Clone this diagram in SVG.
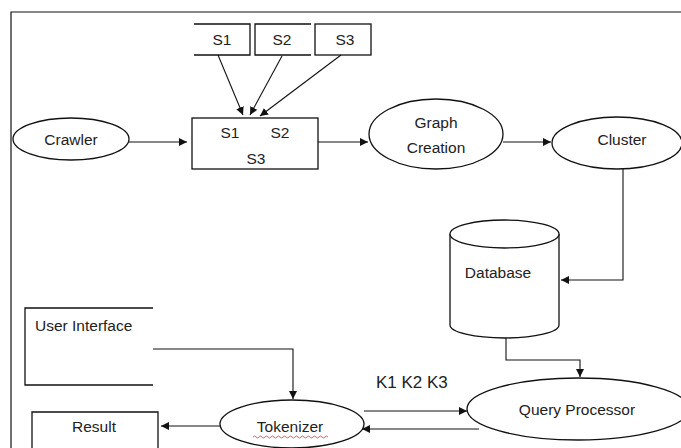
<svg xmlns="http://www.w3.org/2000/svg" width="681" height="448" viewBox="0 0 681 448">
<style>
.s{fill:none;stroke:#111;stroke-width:1.2}
.n{fill:#fff;stroke:#111;stroke-width:1.3}
.c{fill:none;stroke:#111;stroke-width:1.1}
text{font-family:"Liberation Sans",Arial,sans-serif;font-size:15.5px;fill:#222}
.m{text-anchor:middle}
</style>
<defs>
<marker id="a" viewBox="0 0 10 10" refX="10" refY="5" markerWidth="8" markerHeight="8" markerUnits="userSpaceOnUse" orient="auto">
<path d="M0,0 L10,5 L0,10 z" fill="#111"/>
</marker>
</defs>
<rect width="681" height="448" fill="#fff"/>
<g id="frame"><path class="s" d="M11,448 V12 H681"/></g>

<g id="s1"><path class="n" d="M194,24 H250 V55 H194"/><text class="m" x="222" y="45">S1</text></g>
<g id="s2"><path class="n" d="M311,24 H255 V55 H311"/><text class="m" x="282" y="45">S2</text></g>
<g id="s3"><rect class="n" x="315" y="24" width="56" height="31"/><text class="m" x="345" y="45">S3</text></g>

<g id="merge"><rect class="n" x="192" y="118" width="126" height="51"/>
<text class="m" x="230" y="138">S1</text><text class="m" x="280" y="138">S2</text><text class="m" x="256" y="164">S3</text></g>

<g id="crawler"><ellipse class="n" cx="71" cy="139" rx="58" ry="21"/><text class="m" x="71" y="145">Crawler</text></g>
<g id="graph"><ellipse class="n" cx="436" cy="134" rx="67" ry="35"/><text class="m" x="436" y="128">Graph</text><text class="m" x="436" y="153">Creation</text></g>
<g id="cluster"><ellipse class="n" cx="617" cy="143" rx="65" ry="26"/><text class="m" x="622" y="145">Cluster</text></g>

<g id="database">
<path class="n" d="M450,234 V325 A54.5,13 0 0 0 559,325 V234"/>
<ellipse class="n" cx="504.5" cy="234" rx="54.5" ry="14"/>
<text class="m" x="498" y="278">Database</text></g>

<g id="query"><ellipse class="n" cx="578" cy="409" rx="111" ry="31"/><text class="m" x="577" y="415">Query Processor</text></g>

<g id="ui"><path class="n" d="M153,308 H25 V385 H153"/><text x="35" y="331">User Interface</text></g>

<g id="tokenizer"><ellipse class="n" cx="292" cy="424" rx="72" ry="24"/><text class="m" x="290" y="432">Tokenizer</text>
<path d="M253,437 q1.5,-2 3,0 t3,0 t3,0 t3,0 t3,0 t3,0 t3,0 t3,0 t3,0 t3,0 t3,0 t3,0 t3,0 t3,0 t3,0 t3,0 t3,0 t3,0 t3,0 t3,0 t3,0 t3,0 t3,0 t3,0 t3,0" fill="none" stroke="#d33" stroke-width="0.8"/></g>

<g id="result"><path class="n" d="M32,448 V412 H158 V448"/><text class="m" x="94" y="432">Result</text></g>

<g id="label"><text x="376" y="388" style="font-size:17px">K1 K2 K3</text></g>

<g id="connectors">
<path class="c" marker-end="url(#a)" d="M218,55 L243,115"/>
<path class="c" marker-end="url(#a)" d="M282,56 L250,115"/>
<path class="c" marker-end="url(#a)" d="M341,55 L260,116"/>
<path class="c" marker-end="url(#a)" d="M129,142 H187"/>
<path class="c" marker-end="url(#a)" d="M318,142 H368"/>
<path class="c" marker-end="url(#a)" d="M503,142 H551"/>
<path class="c" marker-end="url(#a)" d="M623,169 V280 H561"/>
<path class="c" marker-end="url(#a)" d="M506,338 V360 H580 V377"/>
<path class="c" marker-end="url(#a)" d="M153,349 H293 V399"/>
<path class="c" marker-end="url(#a)" d="M221,426 H161"/>
<path class="c" marker-end="url(#a)" d="M364,411 H467"/>
<path class="c" marker-end="url(#a)" d="M479,429 H362"/>
</g>
</svg>
